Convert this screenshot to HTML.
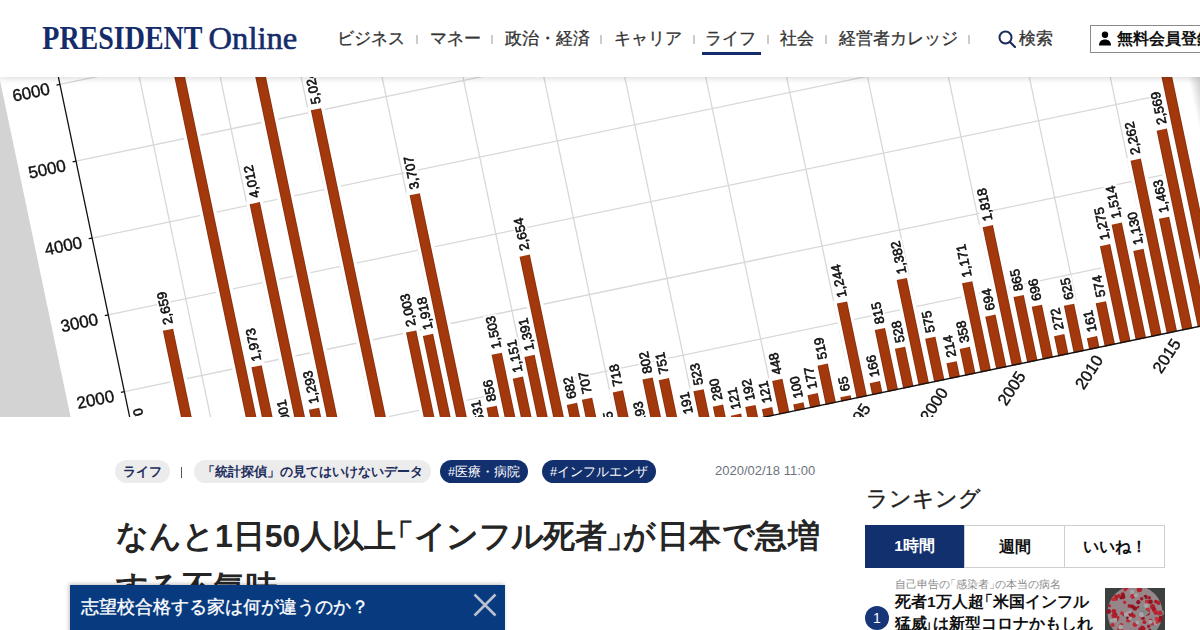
<!DOCTYPE html>
<html lang="ja">
<head>
<meta charset="utf-8">
<title>PRESIDENT Online</title>
<style>
*{box-sizing:border-box;margin:0;padding:0}
html,body{width:1200px;height:630px;overflow:hidden;background:#fff}
body{position:relative;font-family:"Liberation Sans",sans-serif;color:#222}
.chart{position:absolute;left:0;top:0;display:block;filter:blur(.35px)}
.hdr{position:absolute;left:0;top:0;width:1200px;height:77px;background:#fff;box-shadow:0 1px 7px rgba(0,0,0,.16);z-index:5}
.logo{position:absolute;left:42px;top:17px;display:block;overflow:visible}
.nav{position:absolute;left:340px;top:26.5px;height:24px;font-size:17px;line-height:24px;color:#333;white-space:nowrap}
.nav a{position:absolute;top:0;color:#333;text-decoration:none;-webkit-text-stroke:.3px #333}
.nav i{position:absolute;top:8.5px;width:2px;height:8.5px;background:#ccc}
.nav .on:after{content:"";position:absolute;left:-2.8px;right:-5px;top:25.3px;height:3.7px;background:#152c6b}
.srch{position:absolute;left:998px;top:30px;width:18px;height:18px}
.reg{position:absolute;left:1090px;top:25px;width:140px;height:28px;border:1px solid #8a8a8a;background:#fff;font-size:16px;font-weight:700;color:#111;line-height:26px;white-space:nowrap}
.reg svg{position:absolute;left:7px;top:6px}
.reg span{position:absolute;left:26px;top:0}
.tags{position:absolute;top:460px;left:0;height:23px;font-size:12.6px;line-height:24.5px;white-space:nowrap}
.pill{position:absolute;top:0;height:23px;border-radius:12px;padding:0 8px;font-weight:700;color:#1d2d5c;background:#ececec}
.pill.dk{background:#13306e;color:#fff;font-weight:400}
.sep{position:absolute;left:180.5px;top:7px;width:1.3px;height:11px;background:#555}
.date{position:absolute;left:715px;top:462px;font-size:13px;color:#6d737c;line-height:18px}
.ttl{position:absolute;left:116px;top:511px;width:740px;white-space:nowrap;font-size:32px;font-weight:700;line-height:51px;color:#252525}
.ob{margin-left:-.45em}.cb{margin-right:-.45em}
.rk{position:absolute;left:866px;top:483.5px;font-size:22px;line-height:30px;color:#222;-webkit-text-stroke:.45px #222}
.tabs{position:absolute;left:865px;top:525px;width:300px;height:43px;border:1px solid #cfcfcf;display:flex}
.tabs div{flex:1;text-align:center;font-size:15.5px;font-weight:700;line-height:41px;color:#111;border-left:1px solid #cfcfcf}
.tabs div:first-child{border-left:0;background:#13306e;color:#fff;margin:-1px 0 -1px -1px}
.sub{position:absolute;left:895px;top:576px;font-size:11.2px;color:#8a8a8a;line-height:16px;white-space:nowrap}
.it{position:absolute;left:895px;top:590.5px;width:205px;white-space:nowrap;font-size:15.5px;font-weight:700;line-height:22px;color:#111}
.it .cb{margin-left:-.25em;margin-right:-.38em}
.num{position:absolute;left:865px;top:606px;width:24px;height:24px;border-radius:50%;background:#173679;color:#fff;font-size:14px;line-height:24px;text-align:center}
.thumb{position:absolute;left:1105px;top:588px}
.bn{position:absolute;left:70px;top:585px;width:435px;height:60px;background:#073a7f;box-shadow:-1px -1px 4px rgba(0,0,0,.25);color:#fff;font-size:17.5px;line-height:24px;z-index:6}
.bn span{position:absolute;left:11px;top:10px;white-space:nowrap;-webkit-text-stroke:.35px #fff}
.bn svg{position:absolute;left:403px;top:8px}
</style>
</head>
<body>
<svg class="chart" width="1200" height="417" viewBox="0 0 1200 417" font-family="Liberation Sans, sans-serif">
<rect width="1200" height="417" fill="#d3d3d3"/>
<g transform="matrix(0.97893 -0.20420 0.20521 0.97872 164.296 543.595)">
<defs><linearGradient id="rg" gradientUnits="userSpaceOnUse" x1="1097.61" y1="0" x2="1111.86" y2="0"><stop offset="0" stop-color="#fff"/><stop offset="1" stop-color="#c2c2c2"/></linearGradient></defs><rect x="-65.73" y="-941.60" width="1253.62" height="1176.99" fill="url(#rg)"/><path d="M-7.92 -78.47H1084.94 M-7.92 -156.93H1084.94 M-7.92 -235.40H1084.94 M-7.92 -313.87H1084.94 M-7.92 -392.33H1084.94 M-7.92 -470.80H1084.94 M-7.92 -549.26H1084.94 M-7.92 -627.73H1084.94 M-7.92 -706.20H1084.94 M71.27 0.00V-706.20 M150.47 0.00V-706.20 M229.66 0.00V-706.20 M308.85 0.00V-706.20 M388.04 0.00V-706.20 M467.24 0.00V-706.20 M546.43 0.00V-706.20 M625.62 0.00V-706.20 M704.81 0.00V-706.20 M784.01 0.00V-706.20 M863.20 0.00V-706.20 M942.39 0.00V-706.20 M1021.58 0.00V-706.20" stroke="#d8d8d8" stroke-width="1.3" fill="none"/><defs><linearGradient id="bg" x1="0" y1="0" x2="1" y2="0"><stop offset="0" stop-color="#7e2a0a"/><stop offset=".14" stop-color="#a3380d"/><stop offset=".86" stop-color="#a3380d"/><stop offset="1" stop-color="#7e2a0a"/></linearGradient></defs><g fill="url(#bg)" stroke="#fff" stroke-width="6.5" paint-order="stroke"><rect x="-5.23" y="-99.65" width="10.45" height="98.95"/><rect x="10.61" y="-62.77" width="10.45" height="62.07"/><rect x="26.45" y="-54.93" width="10.45" height="54.23"/><rect x="42.29" y="-208.64" width="10.45" height="207.94"/><rect x="58.13" y="-54.93" width="10.45" height="54.23"/><rect x="73.97" y="-47.08" width="10.45" height="46.38"/><rect x="89.80" y="-51.00" width="10.45" height="50.30"/><rect x="105.64" y="-606.94" width="10.45" height="606.24"/><rect x="121.48" y="-154.81" width="10.45" height="154.11"/><rect x="137.32" y="-78.54" width="10.45" height="77.84"/><rect x="153.16" y="-314.81" width="10.45" height="314.11"/><rect x="169.00" y="-101.46" width="10.45" height="100.76"/><rect x="184.84" y="-588.50" width="10.45" height="587.80"/><rect x="200.67" y="-31.39" width="10.45" height="30.69"/><rect x="216.51" y="-32.96" width="10.45" height="32.26"/><rect x="232.35" y="-394.21" width="10.45" height="393.51"/><rect x="248.19" y="-23.54" width="10.45" height="22.84"/><rect x="264.03" y="-25.11" width="10.45" height="24.41"/><rect x="279.87" y="-157.17" width="10.45" height="156.47"/><rect x="295.70" y="-150.50" width="10.45" height="149.80"/><rect x="311.54" y="-290.87" width="10.45" height="290.17"/><rect x="327.38" y="-49.51" width="10.45" height="48.81"/><rect x="343.22" y="-67.17" width="10.45" height="66.47"/><rect x="359.06" y="-117.93" width="10.45" height="117.23"/><rect x="374.90" y="-90.31" width="10.45" height="89.61"/><rect x="390.74" y="-109.15" width="10.45" height="108.45"/><rect x="406.57" y="-208.25" width="10.45" height="207.55"/><rect x="422.41" y="-53.51" width="10.45" height="52.81"/><rect x="438.25" y="-55.48" width="10.45" height="54.78"/><rect x="454.09" y="-11.38" width="10.45" height="10.68"/><rect x="469.93" y="-56.34" width="10.45" height="55.64"/><rect x="485.77" y="-15.14" width="10.45" height="14.44"/><rect x="501.61" y="-62.93" width="10.45" height="62.23"/><rect x="517.44" y="-58.93" width="10.45" height="58.23"/><rect x="533.28" y="-14.99" width="10.45" height="14.29"/><rect x="549.12" y="-41.04" width="10.45" height="40.34"/><rect x="564.96" y="-21.97" width="10.45" height="21.27"/><rect x="580.80" y="-9.49" width="10.45" height="8.79"/><rect x="596.64" y="-15.07" width="10.45" height="14.37"/><rect x="612.48" y="-9.49" width="10.45" height="8.79"/><rect x="628.31" y="-35.15" width="10.45" height="34.45"/><rect x="644.15" y="-7.85" width="10.45" height="7.15"/><rect x="659.99" y="-13.89" width="10.45" height="13.19"/><rect x="675.83" y="-40.72" width="10.45" height="40.02"/><rect x="691.67" y="-5.10" width="10.45" height="4.40"/><rect x="707.51" y="-97.61" width="10.45" height="96.91"/><rect x="723.34" y="-13.03" width="10.45" height="12.33"/><rect x="739.18" y="-63.95" width="10.45" height="63.25"/><rect x="755.02" y="-41.43" width="10.45" height="40.73"/><rect x="770.86" y="-108.44" width="10.45" height="107.74"/><rect x="786.70" y="-45.12" width="10.45" height="44.42"/><rect x="802.54" y="-16.79" width="10.45" height="16.09"/><rect x="818.38" y="-28.09" width="10.45" height="27.39"/><rect x="834.21" y="-91.88" width="10.45" height="91.18"/><rect x="850.05" y="-54.46" width="10.45" height="53.76"/><rect x="865.89" y="-142.65" width="10.45" height="141.95"/><rect x="881.73" y="-67.87" width="10.45" height="67.17"/><rect x="897.57" y="-54.61" width="10.45" height="53.91"/><rect x="913.41" y="-21.34" width="10.45" height="20.64"/><rect x="929.25" y="-49.04" width="10.45" height="48.34"/><rect x="945.08" y="-12.63" width="10.45" height="11.93"/><rect x="960.92" y="-45.04" width="10.45" height="44.34"/><rect x="976.76" y="-100.04" width="10.45" height="99.34"/><rect x="992.60" y="-118.80" width="10.45" height="118.10"/><rect x="1008.44" y="-88.67" width="10.45" height="87.97"/><rect x="1024.28" y="-177.49" width="10.45" height="176.79"/><rect x="1040.11" y="-114.80" width="10.45" height="114.10"/><rect x="1055.95" y="-201.58" width="10.45" height="200.88"/><rect x="1071.79" y="-260.90" width="10.45" height="260.20"/></g><path d="M-7.92 0.00V-706.20 M-7.92 -1.30H1084.94" stroke="#111" stroke-width="1.3" fill="none"/><path d="M-11.42 0.00H-7.92 M-11.42 -78.47H-7.92 M-11.42 -156.93H-7.92 M-11.42 -235.40H-7.92 M-11.42 -313.87H-7.92 M-11.42 -392.33H-7.92 M-11.42 -470.80H-7.92 M-11.42 -549.26H-7.92 M-11.42 -627.73H-7.92 M-11.42 -706.20H-7.92" stroke="#111" stroke-width="1.3"/><g fill="#fff"><rect x="-5.50" y="-138.93" width="13.6" height="35.28"/><rect x="10.34" y="-90.96" width="13.6" height="24.18"/><rect x="26.18" y="-83.11" width="13.6" height="24.18"/><rect x="42.02" y="-247.92" width="13.6" height="35.28"/><rect x="57.85" y="-83.11" width="13.6" height="24.18"/><rect x="73.69" y="-75.26" width="13.6" height="24.18"/><rect x="89.53" y="-79.19" width="13.6" height="24.18"/><rect x="105.37" y="-646.21" width="13.6" height="35.28"/><rect x="121.21" y="-194.09" width="13.6" height="35.28"/><rect x="137.05" y="-117.82" width="13.6" height="35.28"/><rect x="152.89" y="-354.08" width="13.6" height="35.28"/><rect x="168.72" y="-140.73" width="13.6" height="35.28"/><rect x="184.56" y="-627.77" width="13.6" height="35.28"/><rect x="200.40" y="-59.57" width="13.6" height="24.18"/><rect x="216.24" y="-61.14" width="13.6" height="24.18"/><rect x="232.08" y="-433.49" width="13.6" height="35.28"/><rect x="247.92" y="-51.72" width="13.6" height="24.18"/><rect x="263.75" y="-53.29" width="13.6" height="24.18"/><rect x="279.59" y="-196.44" width="13.6" height="35.28"/><rect x="295.43" y="-189.77" width="13.6" height="35.28"/><rect x="311.27" y="-330.15" width="13.6" height="35.28"/><rect x="327.11" y="-77.70" width="13.6" height="24.18"/><rect x="342.95" y="-95.35" width="13.6" height="24.18"/><rect x="358.79" y="-157.21" width="13.6" height="35.28"/><rect x="374.62" y="-129.59" width="13.6" height="35.28"/><rect x="390.46" y="-148.42" width="13.6" height="35.28"/><rect x="406.30" y="-247.53" width="13.6" height="35.28"/><rect x="422.14" y="-81.70" width="13.6" height="24.18"/><rect x="437.98" y="-83.66" width="13.6" height="24.18"/><rect x="453.82" y="-39.56" width="13.6" height="24.18"/><rect x="469.66" y="-84.52" width="13.6" height="24.18"/><rect x="485.49" y="-43.33" width="13.6" height="24.18"/><rect x="501.33" y="-91.11" width="13.6" height="24.18"/><rect x="517.17" y="-87.11" width="13.6" height="24.18"/><rect x="533.01" y="-43.17" width="13.6" height="24.18"/><rect x="548.85" y="-69.22" width="13.6" height="24.18"/><rect x="564.69" y="-50.15" width="13.6" height="24.18"/><rect x="580.52" y="-37.68" width="13.6" height="24.18"/><rect x="596.36" y="-43.25" width="13.6" height="24.18"/><rect x="612.20" y="-37.68" width="13.6" height="24.18"/><rect x="628.04" y="-63.34" width="13.6" height="24.18"/><rect x="643.88" y="-36.03" width="13.6" height="24.18"/><rect x="659.72" y="-42.07" width="13.6" height="24.18"/><rect x="675.56" y="-68.91" width="13.6" height="24.18"/><rect x="691.39" y="-25.89" width="13.6" height="16.79"/><rect x="707.23" y="-136.89" width="13.6" height="35.28"/><rect x="723.07" y="-41.21" width="13.6" height="24.18"/><rect x="738.91" y="-92.13" width="13.6" height="24.18"/><rect x="754.75" y="-69.61" width="13.6" height="24.18"/><rect x="770.59" y="-147.72" width="13.6" height="35.28"/><rect x="786.43" y="-73.30" width="13.6" height="24.18"/><rect x="802.26" y="-44.98" width="13.6" height="24.18"/><rect x="818.10" y="-56.28" width="13.6" height="24.18"/><rect x="833.94" y="-131.16" width="13.6" height="35.28"/><rect x="849.78" y="-82.64" width="13.6" height="24.18"/><rect x="865.62" y="-181.93" width="13.6" height="35.28"/><rect x="881.46" y="-96.06" width="13.6" height="24.18"/><rect x="897.29" y="-82.80" width="13.6" height="24.18"/><rect x="913.13" y="-49.53" width="13.6" height="24.18"/><rect x="928.97" y="-77.23" width="13.6" height="24.18"/><rect x="944.81" y="-40.82" width="13.6" height="24.18"/><rect x="960.65" y="-73.22" width="13.6" height="24.18"/><rect x="976.49" y="-139.32" width="13.6" height="35.28"/><rect x="992.33" y="-158.07" width="13.6" height="35.28"/><rect x="1008.16" y="-127.94" width="13.6" height="35.28"/><rect x="1024.00" y="-216.77" width="13.6" height="35.28"/><rect x="1039.84" y="-154.07" width="13.6" height="35.28"/><rect x="1055.68" y="-240.86" width="13.6" height="35.28"/><rect x="1071.52" y="-300.18" width="13.6" height="35.28"/></g><g font-size="13.3" dominant-baseline="central" fill="#111" stroke="#111" stroke-width="0.6"><text transform="translate(1.30 -104.65) rotate(-90)">1,270</text><text transform="translate(17.14 -67.77) rotate(-90)">800</text><text transform="translate(32.98 -59.93) rotate(-90)">700</text><text transform="translate(48.82 -213.64) rotate(-90)">2,659</text><text transform="translate(64.65 -59.93) rotate(-90)">700</text><text transform="translate(80.49 -52.08) rotate(-90)">600</text><text transform="translate(96.33 -56.00) rotate(-90)">650</text><text transform="translate(112.17 -611.94) rotate(-90)">7,735</text><text transform="translate(128.01 -159.81) rotate(-90)">1,973</text><text transform="translate(143.85 -83.54) rotate(-90)">1,001</text><text transform="translate(159.69 -319.81) rotate(-90)">4,012</text><text transform="translate(175.52 -106.46) rotate(-90)">1,293</text><text transform="translate(191.36 -593.50) rotate(-90)">7,500</text><text transform="translate(207.20 -36.39) rotate(-90)">400</text><text transform="translate(223.04 -37.96) rotate(-90)">420</text><text transform="translate(238.88 -399.21) rotate(-90)">5,024</text><text transform="translate(254.72 -28.54) rotate(-90)">300</text><text transform="translate(270.55 -30.11) rotate(-90)">320</text><text transform="translate(286.39 -162.17) rotate(-90)">2,003</text><text transform="translate(302.23 -155.50) rotate(-90)">1,918</text><text transform="translate(318.07 -295.87) rotate(-90)">3,707</text><text transform="translate(333.91 -54.51) rotate(-90)">631</text><text transform="translate(349.75 -72.17) rotate(-90)">856</text><text transform="translate(365.59 -122.93) rotate(-90)">1,503</text><text transform="translate(381.42 -95.31) rotate(-90)">1,151</text><text transform="translate(397.26 -114.15) rotate(-90)">1,391</text><text transform="translate(413.10 -213.25) rotate(-90)">2,654</text><text transform="translate(428.94 -58.51) rotate(-90)">682</text><text transform="translate(444.78 -60.48) rotate(-90)">707</text><text transform="translate(460.62 -16.38) rotate(-90)">145</text><text transform="translate(476.46 -61.34) rotate(-90)">718</text><text transform="translate(492.29 -20.14) rotate(-90)">193</text><text transform="translate(508.13 -67.93) rotate(-90)">802</text><text transform="translate(523.97 -63.93) rotate(-90)">751</text><text transform="translate(539.81 -19.99) rotate(-90)">191</text><text transform="translate(555.65 -46.04) rotate(-90)">523</text><text transform="translate(571.49 -26.97) rotate(-90)">280</text><text transform="translate(587.32 -14.49) rotate(-90)">121</text><text transform="translate(603.16 -20.07) rotate(-90)">192</text><text transform="translate(619.00 -14.49) rotate(-90)">121</text><text transform="translate(634.84 -40.15) rotate(-90)">448</text><text transform="translate(650.68 -12.85) rotate(-90)">100</text><text transform="translate(666.52 -18.89) rotate(-90)">177</text><text transform="translate(682.36 -45.72) rotate(-90)">519</text><text transform="translate(698.19 -10.10) rotate(-90)">65</text><text transform="translate(714.03 -102.61) rotate(-90)">1,244</text><text transform="translate(729.87 -18.03) rotate(-90)">166</text><text transform="translate(745.71 -68.95) rotate(-90)">815</text><text transform="translate(761.55 -46.43) rotate(-90)">528</text><text transform="translate(777.39 -113.44) rotate(-90)">1,382</text><text transform="translate(793.23 -50.12) rotate(-90)">575</text><text transform="translate(809.06 -21.79) rotate(-90)">214</text><text transform="translate(824.90 -33.09) rotate(-90)">358</text><text transform="translate(840.74 -96.88) rotate(-90)">1,171</text><text transform="translate(856.58 -59.46) rotate(-90)">694</text><text transform="translate(872.42 -147.65) rotate(-90)">1,818</text><text transform="translate(888.26 -72.87) rotate(-90)">865</text><text transform="translate(904.09 -59.61) rotate(-90)">696</text><text transform="translate(919.93 -26.34) rotate(-90)">272</text><text transform="translate(935.77 -54.04) rotate(-90)">625</text><text transform="translate(951.61 -17.63) rotate(-90)">161</text><text transform="translate(967.45 -50.04) rotate(-90)">574</text><text transform="translate(983.29 -105.04) rotate(-90)">1,275</text><text transform="translate(999.13 -123.80) rotate(-90)">1,514</text><text transform="translate(1014.96 -93.67) rotate(-90)">1,130</text><text transform="translate(1030.80 -182.49) rotate(-90)">2,262</text><text transform="translate(1046.64 -119.80) rotate(-90)">1,463</text><text transform="translate(1062.48 -206.58) rotate(-90)">2,569</text><text transform="translate(1078.32 -265.90) rotate(-90)">3,325</text></g><g font-size="17" text-anchor="end" dominant-baseline="central" fill="#111" stroke="#111" stroke-width="0.4"><text x="-18.92" y="-76.37">1000</text><text x="-18.92" y="-154.83">2000</text><text x="-18.92" y="-233.30">3000</text><text x="-18.92" y="-311.77">4000</text><text x="-18.92" y="-390.23">5000</text><text x="-18.92" y="-468.70">6000</text><text x="-18.92" y="-547.16">7000</text><text x="-18.92" y="-625.63">8000</text><text x="-18.92" y="-704.10">9000</text></g><g font-size="16.5" text-anchor="end" fill="#111" stroke="#111" stroke-width="0.4"><text transform="translate(7.00 12.00) rotate(-45)">1950</text><text transform="translate(86.19 12.00) rotate(-45)">1955</text><text transform="translate(165.39 12.00) rotate(-45)">1960</text><text transform="translate(244.58 12.00) rotate(-45)">1965</text><text transform="translate(323.77 12.00) rotate(-45)">1970</text><text transform="translate(402.96 12.00) rotate(-45)">1975</text><text transform="translate(482.16 12.00) rotate(-45)">1980</text><text transform="translate(561.35 12.00) rotate(-45)">1985</text><text transform="translate(640.54 12.00) rotate(-45)">1990</text><text transform="translate(719.73 12.00) rotate(-45)">1995</text><text transform="translate(798.93 12.00) rotate(-45)">2000</text><text transform="translate(878.12 12.00) rotate(-45)">2005</text><text transform="translate(957.31 12.00) rotate(-45)">2010</text><text transform="translate(1036.50 12.00) rotate(-45)">2015</text></g>
</g>
</svg>
<div class="hdr">
  <svg class="logo" width="270" height="40" viewBox="0 0 270 40"><text x="0.3" y="31.6" font-family="Liberation Serif, serif" font-weight="700" font-size="33.5" fill="#152c6b" textLength="160.2" lengthAdjust="spacingAndGlyphs">PRESIDENT</text><text x="166.6" y="31.6" font-family="Liberation Serif, serif" font-size="32.6" fill="#152c6b" stroke="#152c6b" stroke-width=".6" textLength="88.6" lengthAdjust="spacingAndGlyphs">Online</text></svg>
  <div class="nav">
    <a style="left:-2.7px">ビジネス</a><i style="left:75.8px"></i>
    <a style="left:89.6px">マネー</a><i style="left:150.8px"></i>
    <a style="left:165px">政治・経済</a><i style="left:260px"></i>
    <a style="left:273.9px">キャリア</a><i style="left:352.5px"></i>
    <a class="on" style="left:364.8px">ライフ</a><i style="left:427px"></i>
    <a style="left:440.2px">社会</a><i style="left:484.5px"></i>
    <a style="left:498.8px">経営者カレッジ</a><i style="left:628px"></i>
    <a style="left:678.8px">検索</a>
  </div>
  <svg class="srch" viewBox="0 0 18 18"><circle cx="7.5" cy="7.5" r="6" fill="none" stroke="#1c2b5a" stroke-width="2"/><path d="M12 12l5 5" stroke="#1c2b5a" stroke-width="2.2" stroke-linecap="round"/></svg>
  <div class="reg"><svg width="14" height="15" viewBox="0 0 14 15" style="left:6.5px;top:5px"><circle cx="7" cy="3.8" r="3.2" fill="#000"/><path d="M1 14.5C1 10.5 3.5 8.5 7 8.5S13 10.5 13 14.5Z" fill="#000"/></svg><span>無料会員登録</span></div>
</div>

<div class="tags">
  <span class="pill" style="left:115px">ライフ</span>
  <span class="sep"></span>
  <span class="pill" style="left:194px">「統計探偵」の見てはいけないデータ</span>
  <span class="pill dk" style="left:440px">#医療・病院</span>
  <span class="pill dk" style="left:542px">#インフルエンザ</span>
</div>
<div class="date">2020/02/18 11:00</div>

<h1 class="ttl">なんと1日50人以上<span class="ob">「</span><span style="letter-spacing:-.7px">インフル死者</span><span class="cb">」</span><span style="letter-spacing:.5px">が日本で急増</span><br>する不気味</h1>

<div class="rk">ランキング</div>
<div class="tabs"><div>1時間</div><div>週間</div><div>いいね！</div></div>
<div class="sub">自己申告の<span class="ob">「</span>感染者<span class="cb">」</span>の本当の病名</div>
<div class="num">1</div>
<div class="it">死者1万人超<span class="ob">「</span>米国インフル<br>猛威<span class="cb">」</span>は新型コロナかもしれ<br>ない</div>
<svg class="thumb" width="60" height="42" viewBox="0 0 60 42"><rect width="60" height="42" fill="#3c403f"/><circle cx="30" cy="25" r="27.5" fill="#96868a"/><circle cx="10.9" cy="30.9" r="2.6" fill="#8e1420"/><circle cx="6.5" cy="32.4" r="1.6" fill="#a9a4a4"/><circle cx="8.9" cy="23.4" r="2.4" fill="#b3202c"/><circle cx="20.5" cy="28.3" r="2.1" fill="#7f8a8a"/><circle cx="16.3" cy="9.6" r="1.9" fill="#8e1420"/><circle cx="18.1" cy="7.8" r="1.6" fill="#b3202c"/><circle cx="33.3" cy="19.2" r="1.4" fill="#a51826"/><circle cx="10.9" cy="11.2" r="1.8" fill="#b82a36"/><circle cx="40.5" cy="8.9" r="2.2" fill="#8e1420"/><circle cx="37.8" cy="25.2" r="2.3" fill="#8e1420"/><circle cx="56.6" cy="24.6" r="2.5" fill="#7f8a8a"/><circle cx="29.4" cy="48.2" r="2.1" fill="#b3202c"/><circle cx="51.1" cy="35.0" r="1.9" fill="#a9a4a4"/><circle cx="28.2" cy="31.7" r="1.4" fill="#7f8a8a"/><circle cx="42.2" cy="25.0" r="2.6" fill="#8e1420"/><circle cx="14.1" cy="40.8" r="1.9" fill="#b82a36"/><circle cx="13.8" cy="7.9" r="1.8" fill="#b3202c"/><circle cx="28.8" cy="28.0" r="1.9" fill="#b3202c"/><circle cx="44.9" cy="41.8" r="1.4" fill="#8e1420"/><circle cx="33.3" cy="14.2" r="2.1" fill="#8e1420"/><circle cx="3.6" cy="23.5" r="2.4" fill="#8e1420"/><circle cx="24.4" cy="17.9" r="1.9" fill="#a51826"/><circle cx="54.8" cy="25.1" r="2.7" fill="#b82a36"/><circle cx="21.6" cy="48.7" r="1.7" fill="#8e1420"/><circle cx="50.7" cy="24.5" r="2.2" fill="#b3202c"/><circle cx="42.3" cy="24.2" r="1.7" fill="#a9a4a4"/><circle cx="11.3" cy="9.5" r="1.9" fill="#b3202c"/><circle cx="47.2" cy="35.9" r="1.7" fill="#b82a36"/><circle cx="15.7" cy="40.5" r="1.6" fill="#b82a36"/><circle cx="9.9" cy="27.1" r="2.5" fill="#a51826"/><circle cx="19.6" cy="14.3" r="1.7" fill="#b82a36"/><circle cx="30.0" cy="36.6" r="2.4" fill="#b82a36"/><circle cx="38.6" cy="49.6" r="2.5" fill="#b82a36"/><circle cx="35.1" cy="27.7" r="1.5" fill="#b82a36"/><circle cx="42.7" cy="22.0" r="2.3" fill="#c2303a"/><circle cx="7.7" cy="37.1" r="2.0" fill="#b82a36"/><circle cx="40.2" cy="45.2" r="1.5" fill="#a51826"/><circle cx="8.6" cy="27.8" r="2.2" fill="#b3202c"/><circle cx="25.2" cy="50.1" r="1.7" fill="#b3202c"/><circle cx="45.5" cy="32.2" r="1.7" fill="#b3202c"/><circle cx="37.2" cy="39.5" r="2.1" fill="#a51826"/><circle cx="38.3" cy="30.4" r="2.0" fill="#c2303a"/><circle cx="17.8" cy="6.5" r="2.2" fill="#a51826"/><circle cx="8.3" cy="11.3" r="2.0" fill="#c2303a"/><circle cx="22.1" cy="0.1" r="1.4" fill="#7f8a8a"/><circle cx="36.2" cy="28.1" r="1.8" fill="#a51826"/><circle cx="37.3" cy="25.0" r="2.1" fill="#7f8a8a"/><circle cx="54.8" cy="32.1" r="2.4" fill="#a51826"/><circle cx="36.9" cy="0.4" r="1.9" fill="#7f8a8a"/><circle cx="22.7" cy="26.2" r="2.5" fill="#a9a4a4"/><circle cx="48.5" cy="28.6" r="1.4" fill="#7f8a8a"/><circle cx="15.0" cy="38.7" r="2.2" fill="#b3202c"/><circle cx="37.6" cy="29.9" r="1.7" fill="#8e1420"/><circle cx="27.7" cy="8.5" r="2.4" fill="#b82a36"/><circle cx="12.5" cy="29.8" r="2.1" fill="#b82a36"/><circle cx="30.0" cy="20.4" r="2.2" fill="#8e1420"/><circle cx="55.8" cy="28.6" r="1.5" fill="#a9a4a4"/><circle cx="10.8" cy="8.1" r="1.7" fill="#b3202c"/><circle cx="23.2" cy="32.4" r="2.2" fill="#b82a36"/><circle cx="42.3" cy="47.2" r="2.3" fill="#8e1420"/><circle cx="16.9" cy="25.1" r="1.9" fill="#c2303a"/><circle cx="35.6" cy="41.6" r="2.4" fill="#a51826"/><circle cx="42.1" cy="13.7" r="2.2" fill="#c2303a"/><circle cx="32.4" cy="34.5" r="1.9" fill="#a9a4a4"/><circle cx="36.5" cy="26.7" r="2.7" fill="#a9a4a4"/><circle cx="38.7" cy="40.6" r="1.8" fill="#a51826"/><circle cx="38.0" cy="10.6" r="2.1" fill="#7f8a8a"/><circle cx="20.2" cy="47.4" r="2.7" fill="#8e1420"/><circle cx="19.6" cy="46.9" r="1.8" fill="#b82a36"/><circle cx="51.7" cy="30.8" r="2.1" fill="#c2303a"/><circle cx="18.2" cy="8.8" r="2.2" fill="#8e1420"/><circle cx="26.0" cy="26.2" r="2.5" fill="#a51826"/><circle cx="34.4" cy="1.6" r="2.7" fill="#b3202c"/><circle cx="10.0" cy="32.0" r="2.3" fill="#a9a4a4"/><circle cx="24.9" cy="30.5" r="1.7" fill="#a9a4a4"/><circle cx="18.9" cy="26.8" r="1.4" fill="#8e1420"/><circle cx="25.0" cy="23.9" r="1.7" fill="#a9a4a4"/><circle cx="17.4" cy="43.4" r="2.1" fill="#b82a36"/><circle cx="40.6" cy="24.8" r="2.5" fill="#7f8a8a"/><circle cx="36.5" cy="20.6" r="2.6" fill="#7f8a8a"/><circle cx="16.4" cy="36.6" r="1.7" fill="#b3202c"/><circle cx="15.6" cy="39.1" r="2.5" fill="#a9a4a4"/><circle cx="36.6" cy="10.8" r="1.8" fill="#a51826"/><circle cx="50.2" cy="39.5" r="2.4" fill="#7f8a8a"/><circle cx="39.4" cy="34.2" r="1.9" fill="#b3202c"/><circle cx="49.3" cy="22.2" r="2.4" fill="#c2303a"/><circle cx="28.3" cy="47.5" r="1.4" fill="#b82a36"/><circle cx="45.4" cy="33.8" r="2.1" fill="#a9a4a4"/><circle cx="26.0" cy="50.3" r="1.7" fill="#a9a4a4"/><circle cx="52.0" cy="34.3" r="1.6" fill="#c2303a"/><circle cx="20.1" cy="1.5" r="2.0" fill="#b82a36"/><circle cx="45.6" cy="13.8" r="2.3" fill="#8e1420"/><circle cx="47.6" cy="18.7" r="2.6" fill="#b3202c"/><circle cx="30.9" cy="7.3" r="2.1" fill="#a9a4a4"/><circle cx="27.2" cy="3.9" r="2.1" fill="#a9a4a4"/><circle cx="41.3" cy="17.6" r="2.3" fill="#a9a4a4"/><circle cx="44.3" cy="9.8" r="1.8" fill="#a51826"/><circle cx="48.9" cy="21.2" r="2.1" fill="#a51826"/><circle cx="22.4" cy="29.8" r="1.4" fill="#8e1420"/><circle cx="55.9" cy="29.6" r="2.1" fill="#8e1420"/><circle cx="4.5" cy="17.8" r="1.6" fill="#b3202c"/><circle cx="27.5" cy="18.6" r="2.1" fill="#8e1420"/><circle cx="51.0" cy="13.6" r="1.9" fill="#a51826"/><circle cx="20.6" cy="26.6" r="2.0" fill="#a9a4a4"/><circle cx="53.5" cy="14.9" r="2.1" fill="#b3202c"/><circle cx="37.5" cy="44.6" r="2.6" fill="#a51826"/><circle cx="22.2" cy="-0.2" r="1.4" fill="#a51826"/><circle cx="33.1" cy="46.9" r="1.8" fill="#c2303a"/><circle cx="30.7" cy="43.8" r="2.0" fill="#b82a36"/><circle cx="43.7" cy="38.3" r="1.7" fill="#a51826"/></svg>

<div class="bn"><span>志望校合格する家は何が違うのか？</span>
<svg width="24" height="24" viewBox="0 0 24 24"><path d="M1.5 1.5L22.5 22.5M22.5 1.5L1.5 22.5" stroke="#b9c1cf" stroke-width="2.6"/></svg></div>
</body>
</html>
